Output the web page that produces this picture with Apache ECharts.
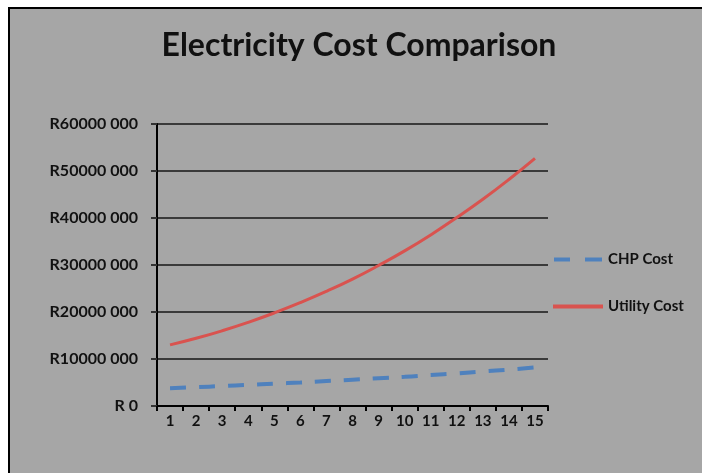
<!DOCTYPE html>
<html><head><meta charset="utf-8">
<script src="https://cdn.jsdelivr.net/npm/echarts@6/dist/echarts.min.js"></script>
<style>html,body{margin:0;padding:0;background:#fff}#c{width:702px;height:473px}</style>
</head><body><div id="c"></div>
<script>
const years = ['1','2','3','4','5','6','7','8','9','10','11','12','13','14','15'];
const chpCost = [3800000,4000000,4250000,4500000,4750000,5000000,5300000,5600000,5900000,6200000,6600000,6950000,7350000,7750000,8200000];
const utilityCost = [13000000,14400000,16000000,17800000,19800000,22000000,24400000,27000000,29900000,33000000,36400000,40100000,44000000,48200000,52700000];
const FONT = 'Lato';
const chart = echarts.init(document.getElementById('c'));
chart.setOption({
  animation: false,
  backgroundColor: '#ffffff',
  graphic: [{
    type: 'rect', z: -10, silent: true,
    shape: {x: 9, y: 8, width: 720, height: 490},
    style: {fill: '#a6a6a6', stroke: '#000', lineWidth: 2}
  }],
  title: {
    text: 'Electricity Cost Comparison', left: 354, top: 25, textAlign: 'center',
    textStyle: {fontFamily: FONT, fontWeight: 'bold', fontSize: 32, color: '#111'}
  },
  legend: {
    orient: 'vertical', left: 548, top: 247, itemGap: 32, itemWidth: 50, itemHeight: 4,
    textStyle: {fontFamily: FONT, fontWeight: 'bold', fontSize: 15, color: '#111'},
    data: [
      {name: 'CHP Cost', icon: 'path://M0,0 L16,0 L16,4 L0,4 Z M31,0 L48,0 L48,4 L31,4 Z', itemStyle: {color: '#4f81bd'}},
      {name: 'Utility Cost', icon: 'rect', itemStyle: {color: '#d9534f'}}
    ]
  },
  grid: {left: 157, right: 154, top: 124, bottom: 67},
  xAxis: {
    type: 'category', data: years, boundaryGap: true,
    axisLine: {lineStyle: {color: '#000', width: 2}},
    axisTick: {show: true, length: 5, lineStyle: {color: '#000', width: 2}},
    axisLabel: {fontFamily: FONT, fontWeight: 'bold', fontSize: 15, color: '#111', margin: 8}
  },
  yAxis: {
    type: 'value', min: 0, max: 60000000, interval: 10000000,
    axisLine: {show: true, lineStyle: {color: '#000', width: 2}},
    axisTick: {show: true, length: 6, lineStyle: {color: '#333', width: 2}},
    splitLine: {lineStyle: {color: '#3a3a3a', width: 2}},
    axisLabel: {
      fontFamily: FONT, fontWeight: 'bold', fontSize: 16, color: '#111', margin: 19,
      formatter: v => v === 0 ? 'R 0' : 'R' + Math.round(v / 1000) + ' 000'
    }
  },
  series: [
    {name: 'CHP Cost', type: 'line', data: chpCost, showSymbol: false, symbol: 'none', smooth: true,
     lineStyle: {color: '#4f81bd', width: 4, type: [16, 13]}, itemStyle: {color: '#4f81bd'}},
    {name: 'Utility Cost', type: 'line', data: utilityCost, showSymbol: false, symbol: 'none', smooth: true,
     lineStyle: {color: '#d9534f', width: 3}, itemStyle: {color: '#d9534f'}}
  ]
});
</script></body></html>
